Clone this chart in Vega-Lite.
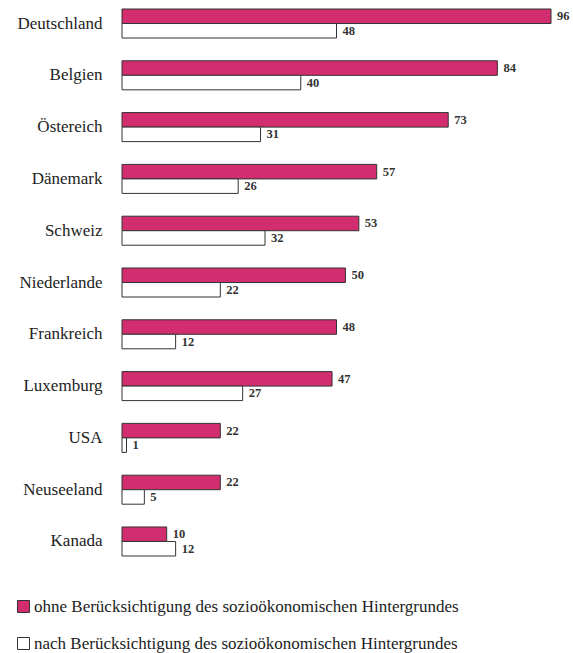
{
  "$schema": "https://vega.github.io/schema/vega-lite/v6.json",
  "autosize": {"type": "none"},
  "width": 429,
  "height": 565,
  "padding": {"left": 122, "top": 0, "right": 22, "bottom": 88},
  "background": "white",
  "config": {"view": {"stroke": null}, "font": "'Liberation Serif', 'DejaVu Serif'"},
  "data": {"values": [
    {"land": "Deutschland", "serie": "ohne Berücksichtigung des sozioökonomischen Hintergrundes", "wert": 96},
    {"land": "Deutschland", "serie": "nach Berücksichtigung des sozioökonomischen Hintergrundes", "wert": 48},
    {"land": "Belgien", "serie": "ohne Berücksichtigung des sozioökonomischen Hintergrundes", "wert": 84},
    {"land": "Belgien", "serie": "nach Berücksichtigung des sozioökonomischen Hintergrundes", "wert": 40},
    {"land": "Östereich", "serie": "ohne Berücksichtigung des sozioökonomischen Hintergrundes", "wert": 73},
    {"land": "Östereich", "serie": "nach Berücksichtigung des sozioökonomischen Hintergrundes", "wert": 31},
    {"land": "Dänemark", "serie": "ohne Berücksichtigung des sozioökonomischen Hintergrundes", "wert": 57},
    {"land": "Dänemark", "serie": "nach Berücksichtigung des sozioökonomischen Hintergrundes", "wert": 26},
    {"land": "Schweiz", "serie": "ohne Berücksichtigung des sozioökonomischen Hintergrundes", "wert": 53},
    {"land": "Schweiz", "serie": "nach Berücksichtigung des sozioökonomischen Hintergrundes", "wert": 32},
    {"land": "Niederlande", "serie": "ohne Berücksichtigung des sozioökonomischen Hintergrundes", "wert": 50},
    {"land": "Niederlande", "serie": "nach Berücksichtigung des sozioökonomischen Hintergrundes", "wert": 22},
    {"land": "Frankreich", "serie": "ohne Berücksichtigung des sozioökonomischen Hintergrundes", "wert": 48},
    {"land": "Frankreich", "serie": "nach Berücksichtigung des sozioökonomischen Hintergrundes", "wert": 12},
    {"land": "Luxemburg", "serie": "ohne Berücksichtigung des sozioökonomischen Hintergrundes", "wert": 47},
    {"land": "Luxemburg", "serie": "nach Berücksichtigung des sozioökonomischen Hintergrundes", "wert": 27},
    {"land": "USA", "serie": "ohne Berücksichtigung des sozioökonomischen Hintergrundes", "wert": 22},
    {"land": "USA", "serie": "nach Berücksichtigung des sozioökonomischen Hintergrundes", "wert": 1},
    {"land": "Neuseeland", "serie": "ohne Berücksichtigung des sozioökonomischen Hintergrundes", "wert": 22},
    {"land": "Neuseeland", "serie": "nach Berücksichtigung des sozioökonomischen Hintergrundes", "wert": 5},
    {"land": "Kanada", "serie": "ohne Berücksichtigung des sozioökonomischen Hintergrundes", "wert": 10},
    {"land": "Kanada", "serie": "nach Berücksichtigung des sozioökonomischen Hintergrundes", "wert": 12}
  ]},
  "encoding": {
    "y": {
      "field": "land", "type": "nominal", "sort": null,
      "scale": {"paddingInner": 0.44, "paddingOuter": 0.174},
      "axis": {"title": null, "domain": false, "ticks": false, "labelPadding": 20, "labelFontSize": 17, "labelColor": "#222", "labelFont": "'Liberation Serif', 'DejaVu Serif'", "labelFontWeight": "normal"}
    },
    "yOffset": {
      "field": "serie", "type": "nominal", "sort": null,
      "scale": {"paddingInner": 0, "paddingOuter": 0}
    },
    "x": {
      "field": "wert", "type": "quantitative",
      "scale": {"domain": [0, 96], "nice": false},
      "axis": null
    }
  },
  "layer": [
    {
      "mark": {"type": "bar", "stroke": "#333", "strokeWidth": 1},
      "encoding": {
        "fill": {
          "field": "serie", "type": "nominal", "sort": null,
          "scale": {"range": ["#D22E6F", "#FFFFFF"]},
          "legend": {
            "orient": "none", "legendX": -107, "legendY": 598,
            "title": null, "symbolType": "square", "symbolSize": 144,
            "symbolStrokeColor": "#333", "symbolStrokeWidth": 1,
            "labelFontSize": 17, "labelFont": "'Liberation Serif', 'DejaVu Serif'", "labelColor": "#222",
            "labelOffset": 2, "rowPadding": 19, "labelLimit": 600
          }
        }
      }
    },
    {
      "mark": {"type": "text", "align": "left", "baseline": "middle", "dx": 6, "fontWeight": "bold", "fontSize": 12.5, "color": "#333", "font": "'Liberation Serif', 'DejaVu Serif'"},
      "encoding": {"text": {"field": "wert", "type": "quantitative"}}
    }
  ]
}
